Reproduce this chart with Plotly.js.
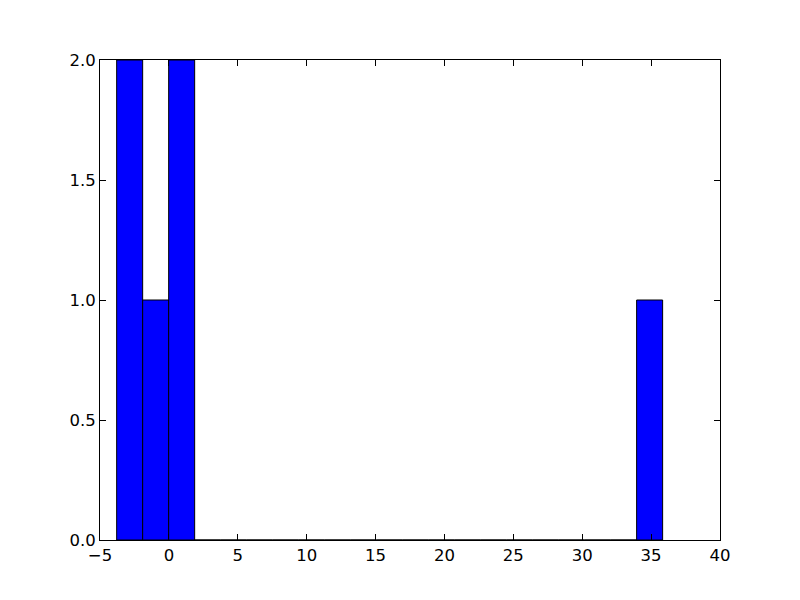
<!DOCTYPE html>
<html>
<head>
<meta charset="utf-8">
<script src="https://cdn.plot.ly/plotly-3.0.1.min.js"></script>
<style>html,body{margin:0;padding:0;background:#fff;}#chart{width:800px;height:600px;}</style>
</head>
<body>
<div id="chart"></div>
<script>
// Histogram: 21 bins starting at binStart with width binWidth
const binStart = -3.79;
const binWidth = 1.887;
const counts = [2, 1, 2, 0, 0, 0, 0, 0, 0, 0, 0, 0, 0, 0, 0, 0, 0, 0, 0, 0, 1];
const xTicks = [-5, 0, 5, 10, 15, 20, 25, 30, 35, 40];
const yTicks = [0, 0.5, 1.0, 1.5, 2.0];

const centers = counts.map((c, i) => binStart + binWidth * (i + 0.5));

const trace = {
  type: 'bar',
  x: centers,
  y: counts,
  width: counts.map(() => binWidth),
  marker: {color: '#0000ff', line: {color: '#000000', width: 1}},
  hoverinfo: 'x+y'
};

const axisCommon = {
  showgrid: false,
  zeroline: false,
  showline: true,
  linecolor: '#000',
  linewidth: 1,
  mirror: 'ticks',
  ticks: 'inside',
  ticklen: 6,
  tickcolor: '#000',
  tickfont: {family: 'DejaVu Sans', size: 16.5, color: '#000'}
};

const layout = {
  width: 800, height: 600,
  margin: {l: 100, r: 80, t: 60, b: 60},
  paper_bgcolor: '#fff', plot_bgcolor: '#fff',
  showlegend: false,
  bargap: 0,
  xaxis: Object.assign({}, axisCommon, {range: [-5, 40], tickvals: xTicks, ticktext: xTicks.map(v => v < 0 ? '\u2212' + Math.abs(v) : String(v))}),
  yaxis: Object.assign({}, axisCommon, {range: [0, 2], tickvals: yTicks, ticktext: yTicks.map(v => v.toFixed(1))})
};

Plotly.newPlot('chart', [trace], layout, {displayModeBar: false, staticPlot: true});
</script>
</body>
</html>
